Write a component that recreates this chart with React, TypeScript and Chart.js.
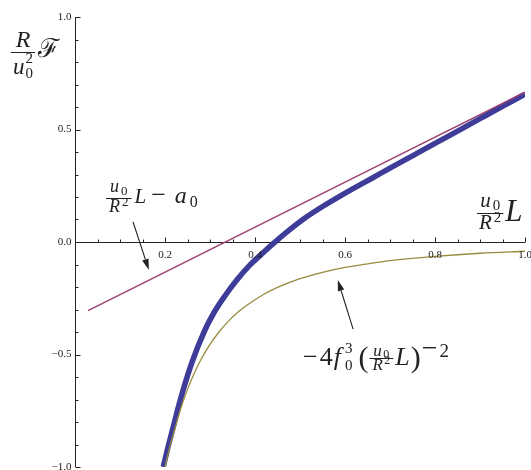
import React, { useEffect, useRef } from "react";
import { Chart, registerables } from "chart.js";

Chart.register(...registerables);

// ---------- data ----------
const redX = [0.029, 1.0];
const redY = [-0.305, 0.666];

const blueX = [0.196, 0.205, 0.216, 0.235, 0.259, 0.289, 0.31, 0.333, 0.36, 0.389, 0.415, 0.441, 0.478, 0.515, 0.552, 0.589, 0.626, 0.656, 0.7, 0.75, 0.8, 0.833, 0.9, 0.95, 1.0];
const blueY = [-1.0, -0.925, -0.84, -0.695, -0.54, -0.39, -0.31, -0.24, -0.168, -0.102, -0.053, -0.006, 0.056, 0.112, 0.16, 0.204, 0.246, 0.279, 0.328, 0.383, 0.438, 0.474, 0.548, 0.603, 0.657];

const oliveX = [0.2, 0.21, 0.222, 0.235, 0.25, 0.265, 0.28, 0.3, 0.32, 0.34, 0.365, 0.39, 0.42, 0.45, 0.5, 0.55, 0.6, 0.65, 0.7, 0.8, 0.9, 1.0];
const oliveY = [-1.0, -0.915, -0.83, -0.74, -0.655, -0.583, -0.522, -0.455, -0.4, -0.354, -0.307, -0.27, -0.232, -0.202, -0.163, -0.135, -0.113, -0.097, -0.083, -0.064, -0.05, -0.041];

const xMajorTicks = [0.2, 0.4, 0.6, 0.8, 1.0];
const xTickLabels = ["0.2", "0.4", "0.6", "0.8", "1.0"];
const yMajorTicks = [1.0, 0.5, 0.0, -0.5, -1.0];
const yTickLabels = ["1.0", "0.5", "0.0", "\u22120.5", "\u22121.0"];
const xMinorTicks = [0.05, 0.1, 0.15, 0.25, 0.3, 0.35, 0.45, 0.5, 0.55, 0.65, 0.7, 0.75, 0.85, 0.9, 0.95];
const yMinorTicks = [0.9, 0.8, 0.7, 0.6, 0.4, 0.3, 0.2, 0.1, -0.1, -0.2, -0.3, -0.4, -0.6, -0.7, -0.8, -0.9];

const COLOR_BLUE = "#3D3D99";
const COLOR_RED = "#993D71";
const COLOR_OLIVE = "#998B3D";
const INK = "#222";

const SERIF = '"Liberation Serif", "DejaVu Serif", serif';

// ---------- tiny math-text layout ----------
type T = { k: "t"; s: string; size: number; it?: boolean; dy?: number; gap?: number };
type S = { k: "ss"; sub?: { s: string; size: number; dy: number }; sup?: { s: string; size: number; dy: number }; gap?: number };
type F = { k: "frac"; num: Tok[]; den: Tok[]; numDy: number; denDy: number; barDy: number; pad: number; gap?: number };
type Tok = T | S | F;

function font(size: number, it?: boolean) {
  return `${it ? "italic " : ""}${size}px ${SERIF}`;
}

function layout(ctx: CanvasRenderingContext2D, toks: Tok[], x: number, y: number, draw: boolean): number {
  let cx = x;
  for (const t of toks) {
    cx += t.gap || 0;
    if (t.k === "t") {
      ctx.font = font(t.size, t.it);
      if (draw) ctx.fillText(t.s, cx, y + (t.dy || 0));
      cx += ctx.measureText(t.s).width;
    } else if (t.k === "ss") {
      let w = 0;
      if (t.sub) {
        ctx.font = font(t.sub.size);
        if (draw) ctx.fillText(t.sub.s, cx, y + t.sub.dy);
        w = Math.max(w, ctx.measureText(t.sub.s).width);
      }
      if (t.sup) {
        ctx.font = font(t.sup.size);
        if (draw) ctx.fillText(t.sup.s, cx, y + t.sup.dy);
        w = Math.max(w, ctx.measureText(t.sup.s).width);
      }
      cx += w;
    } else {
      const nw = layout(ctx, t.num, 0, 0, false);
      const dw = layout(ctx, t.den, 0, 0, false);
      const W = Math.max(nw, dw) + 2 * t.pad;
      if (draw) {
        layout(ctx, t.num, cx + (W - nw) / 2, y + t.numDy, true);
        layout(ctx, t.den, cx + (W - dw) / 2, y + t.denDy, true);
        const by = Math.round(y + t.barDy) + 0.5;
        ctx.lineWidth = 1;
        ctx.beginPath();
        ctx.moveTo(cx, by);
        ctx.lineTo(cx + W, by);
        ctx.stroke();
      }
      cx += W;
    }
  }
  return cx;
}

const u0 = (size: number, sub: number, subDy: number, g: number): Tok[] => [
  { k: "t", s: "u", size, it: true },
  { k: "ss", sub: { s: "0", size: sub, dy: subDy }, gap: g },
];
const R2 = (size: number, sup: number, supDy: number, g: number): Tok[] => [
  { k: "t", s: "R", size, it: true },
  { k: "ss", sup: { s: "2", size: sup, dy: supDy }, gap: g },
];

type Label = { ax: number; ay: number; toks: Tok[] };

const labels: Label[] = [
  {
    // R / u0^2  F   (vertical axis label)
    ax: -0.1422, ay: 0.8222,
    toks: [
      {
        k: "frac",
        num: [{ k: "t", s: "R", size: 24, it: true }],
        den: [
          { k: "t", s: "u", size: 23, it: true },
          { k: "ss", sub: { s: "0", size: 15, dy: 4 }, sup: { s: "2", size: 15, dy: -11 }, gap: 1 },
        ],
        numDy: -10, denDy: 17, barDy: -5, pad: 2,
      },
      { k: "t", s: "\u2131", size: 26, gap: 3 },
    ],
  },
  {
    // u0/R^2 L - a0
    ax: 0.0689, ay: 0.1733,
    toks: [
      { k: "frac", num: u0(18, 13, 3, 2), den: R2(18, 13, -6, 2), numDy: -11, denDy: 9, barDy: -5, pad: 3 },
      { k: "t", s: "L", size: 21, it: true, gap: 3 },
      { k: "t", s: "\u2212", size: 26, gap: 5 },
      { k: "t", s: "a", size: 24, it: true, gap: 9 },
      { k: "ss", sub: { s: "0", size: 16, dy: 4 }, gap: 3 },
    ],
  },
  {
    // u0/R^2 L   (horizontal axis label)
    ax: 0.8933, ay: 0.0933,
    toks: [
      { k: "frac", num: u0(21, 15, 3, 2), den: R2(21, 15, -7, 2), numDy: -14, denDy: 8, barDy: -8, pad: 2 },
      { k: "t", s: "L", size: 31, it: true, gap: 2 },
    ],
  },
  {
    // -4 f0^3 (u0/R^2 L)^-2
    ax: 0.5067, ay: -0.5467,
    toks: [
      { k: "t", s: "\u2212", size: 26 },
      { k: "t", s: "4", size: 26, gap: 2 },
      { k: "t", s: "f", size: 26, it: true, gap: 1 },
      { k: "ss", sub: { s: "0", size: 15, dy: 5 }, sup: { s: "3", size: 15, dy: -12 }, gap: 4 },
      { k: "t", s: "(", size: 30, dy: 2, gap: 6 },
      { k: "frac", num: u0(17, 12, 2, 1.5), den: R2(17, 12, -6, 1.5), numDy: -9, denDy: 5, barDy: -7, pad: 3, gap: 1 },
      { k: "t", s: "L", size: 26, it: true, gap: 2 },
      { k: "t", s: ")", size: 30, dy: 2, gap: 1 },
      { k: "t", s: "\u2212", size: 28, dy: -8, gap: 1 },
      { k: "t", s: "2", size: 19, dy: -8, gap: 2 },
    ],
  },
];

// arrows in data coordinates: [tailX, tailY, tipX, tipY]
const arrows = [
  [0.129, 0.089, 0.164, -0.124],
  [0.618, -0.387, 0.584, -0.169],
];

const axesPlugin = {
  id: "mathAxes",
  beforeDatasetsDraw(chart: any) {
    const { ctx, scales } = chart;
    const xs = scales.x, ys = scales.y;
    const x0 = Math.round(xs.getPixelForValue(0)) + 0.5;
    const y0 = Math.round(ys.getPixelForValue(0)) + 0.5;
    ctx.save();
    ctx.strokeStyle = INK;
    ctx.lineWidth = 1;
    ctx.beginPath();
    ctx.moveTo(x0, ys.getPixelForValue(1));
    ctx.lineTo(x0, ys.getPixelForValue(-1));
    ctx.moveTo(x0 - 0.5, y0);
    ctx.lineTo(xs.getPixelForValue(1), y0);
    ctx.stroke();
    ctx.beginPath();
    for (const v of xMajorTicks) {
      const p = Math.round(xs.getPixelForValue(v)) + 0.5;
      ctx.moveTo(p, y0);
      ctx.lineTo(p, y0 - 5);
    }
    for (const v of xMinorTicks) {
      const p = Math.round(xs.getPixelForValue(v)) + 0.5;
      ctx.moveTo(p, y0);
      ctx.lineTo(p, y0 - 3);
    }
    for (const v of yMajorTicks) {
      const p = Math.round(ys.getPixelForValue(v)) + 0.5;
      ctx.moveTo(x0, p);
      ctx.lineTo(x0 + 5, p);
    }
    for (const v of yMinorTicks) {
      const p = Math.round(ys.getPixelForValue(v)) + 0.5;
      ctx.moveTo(x0, p);
      ctx.lineTo(x0 + 3, p);
    }
    ctx.stroke();
    ctx.restore();
  },
  afterDatasetsDraw(chart: any) {
    const { ctx, scales } = chart;
    const xs = scales.x, ys = scales.y;
    const x0 = Math.round(xs.getPixelForValue(0)) + 0.5;
    const y0 = Math.round(ys.getPixelForValue(0)) + 0.5;
    ctx.save();
    ctx.fillStyle = INK;
    ctx.strokeStyle = INK;
    // tick labels
    ctx.font = `11px ${SERIF}`;
    ctx.textAlign = "center";
    ctx.textBaseline = "alphabetic";
    xMajorTicks.forEach((v, i) => {
      ctx.fillText(xTickLabels[i], xs.getPixelForValue(v), y0 + 15);
    });
    ctx.textAlign = "right";
    ctx.textBaseline = "middle";
    yMajorTicks.forEach((v, i) => {
      ctx.fillText(yTickLabels[i], x0 - 4, ys.getPixelForValue(v));
    });
    // math labels
    ctx.textAlign = "left";
    ctx.textBaseline = "alphabetic";
    for (const lab of labels) {
      layout(ctx, lab.toks, xs.getPixelForValue(lab.ax), ys.getPixelForValue(lab.ay), true);
    }
    // arrows
    for (const a of arrows) {
      const tx = xs.getPixelForValue(a[0]), ty = ys.getPixelForValue(a[1]);
      const hx = xs.getPixelForValue(a[2]), hy = ys.getPixelForValue(a[3]);
      const ang = Math.atan2(hy - ty, hx - tx);
      const len = 11, hw = 3.3;
      const bx = hx - len * Math.cos(ang), by = hy - len * Math.sin(ang);
      ctx.lineWidth = 1.1;
      ctx.beginPath();
      ctx.moveTo(tx, ty);
      ctx.lineTo(bx, by);
      ctx.stroke();
      ctx.beginPath();
      ctx.moveTo(hx, hy);
      ctx.lineTo(bx + hw * Math.sin(ang), by - hw * Math.cos(ang));
      ctx.lineTo(bx - hw * Math.sin(ang), by + hw * Math.cos(ang));
      ctx.closePath();
      ctx.fill();
    }
    ctx.restore();
  },
};

const toPts = (xs: number[], ys: number[]) => xs.map((x, i) => ({ x, y: ys[i] }));

export default function App() {
  const ref = useRef<HTMLCanvasElement | null>(null);
  useEffect(() => {
    if (!ref.current) return;
    const chart = new Chart(ref.current, {
      type: "line",
      data: {
        datasets: [
          {
            data: toPts(oliveX, oliveY),
            borderColor: COLOR_OLIVE,
            borderWidth: 1.3,
            pointRadius: 0,
            cubicInterpolationMode: "monotone",
            fill: false,
          },
          {
            data: toPts(redX, redY),
            borderColor: COLOR_RED,
            borderWidth: 1.3,
            pointRadius: 0,
            fill: false,
          },
          {
            data: toPts(blueX, blueY),
            borderColor: COLOR_BLUE,
            borderWidth: 5.5,
            pointRadius: 0,
            cubicInterpolationMode: "monotone",
            fill: false,
          },
        ],
      } as any,
      options: {
        animation: false,
        responsive: false,
        devicePixelRatio: 1,
        layout: { padding: { left: 75, right: 6, top: 17, bottom: 3 } },
        scales: {
          x: { type: "linear", min: 0, max: 1, display: false },
          y: { type: "linear", min: -1, max: 1, display: false },
        },
        plugins: { legend: { display: false }, tooltip: { enabled: false } },
        events: [],
      } as any,
      plugins: [axesPlugin],
    });
    return () => chart.destroy();
  }, []);
  return (
    <div style={{ position: "absolute", left: 0, top: 0, width: 531, height: 470, background: "#fff" }}>
      <canvas ref={ref} width={531} height={470} style={{ display: "block" }} />
    </div>
  );
}
